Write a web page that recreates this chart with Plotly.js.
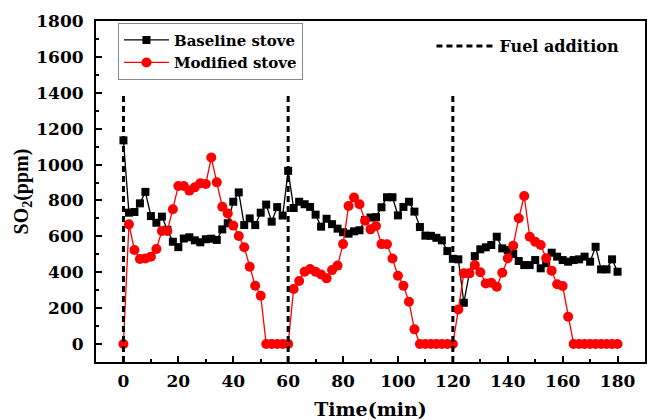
<!DOCTYPE html>
<html>
<head>
<meta charset="utf-8">
<script src="https://cdn.plot.ly/plotly-3.0.1.min.js"></script>
<style>html,body{margin:0;padding:0;background:#fff;}#chart{width:648px;height:420px;}</style>
</head>
<body>
<div id="chart"></div>
<script>
const timeMin = [0,2,4,6,8,10,12,14,16,18,20,22,24,26,28,30,32,34,36,38,40,42,44,46,48,50,52,54,56,58,60,
  62,64,66,68,70,72,74,76,78,80,82,84,86,88,90,92,94,96,98,100,102,104,106,108,110,112,114,116,118,120,
  122,124,126,128,130,132,134,136,138,140,142,144,146,148,150,152,154,156,158,160,162,164,166,168,170,172,174,176,178,180];

const baselineSO2 = [1135,732,736,784,848,713,676,710,637,570,540,588,595,578,567,584,587,580,639,673,793,845,663,700,663,732,777,682,763,716,965,
  758,793,779,764,721,654,698,668,643,623,615,628,634,691,705,707,762,818,818,717,764,793,738,652,604,603,592,578,518,475,
  472,230,395,490,528,539,552,598,533,524,502,463,440,440,468,422,450,509,487,468,459,468,472,487,459,542,416,416,472,403];

const modifiedSO2 = [0,667,524,474,477,487,530,630,630,751,881,881,855,873,896,892,1039,901,765,728,660,602,539,431,325,269,0,0,0,0,0,
  307,351,403,418,403,388,366,412,437,557,769,816,779,687,639,658,557,556,477,381,325,236,82,0,0,0,0,0,0,0,
  193,394,394,440,400,338,342,319,397,478,548,701,825,598,570,552,478,409,333,323,152,0,0,0,0,0,0,0,0,0];

const fuelTimes = [0, 60, 120];
const fuelLineBottom = -100;
const fuelLineTop = 1400;

const seriesNames = ['Baseline stove', 'Modified stove', 'Fuel addition'];

const fuelX = [], fuelY = [];
fuelTimes.forEach(t => { fuelX.push(t, t, null); fuelY.push(fuelLineBottom, fuelLineTop, null); });

const WIDE = 'DejaVu Serif, serif';
const TIMES = 'Liberation Serif, Times New Roman, serif';

const traces = [
  {
    x: timeMin, y: baselineSO2, name: seriesNames[0], type: 'scatter', mode: 'lines+markers',
    line: {color: '#000000', width: 1.3},
    marker: {symbol: 'square', size: 8, color: '#000000'},
    legend: 'legend'
  },
  {
    x: timeMin, y: modifiedSO2, name: seriesNames[1], type: 'scatter', mode: 'lines+markers',
    line: {color: '#ff0000', width: 1.3},
    marker: {symbol: 'circle', size: 10, color: '#ff0000'},
    legend: 'legend'
  },
  {
    x: fuelX, y: fuelY, name: seriesNames[2], type: 'scatter', mode: 'lines',
    line: {color: '#000000', width: 3, dash: '6px,4px'},
    hoverinfo: 'skip',
    legend: 'legend2'
  }
];

const axisCommon = {
  showline: true, linewidth: 2, linecolor: '#000', mirror: true,
  showgrid: false, zeroline: false,
  ticks: 'inside', ticklen: 6, tickwidth: 2, tickcolor: '#000',
  tickfont: {family: WIDE, size: 17, color: '#000', weight: 'bold'}
};

const layout = {
  width: 648, height: 420,
  margin: {l: 96, r: 3, t: 21, b: 58},
  paper_bgcolor: '#fff', plot_bgcolor: '#fff',
  showlegend: true,
  xaxis: Object.assign({}, axisCommon, {
    range: [-10, 190], tick0: 0, dtick: 20,
    ticklabelstandoff: 3,
    minor: {dtick: 10, ticks: 'inside', ticklen: 3, tickwidth: 2, tickcolor: '#000', showgrid: false},
    title: {text: 'Time(min)', font: {family: WIDE, size: 19, color: '#000', weight: 'bold'}, standoff: 12}
  }),
  yaxis: Object.assign({}, axisCommon, {
    range: [-100, 1800], tick0: 0, dtick: 200,
    ticklabelstandoff: 7,
    minor: {dtick: 100, ticks: 'inside', ticklen: 3, tickwidth: 2, tickcolor: '#000', showgrid: false},
    title: {text: 'SO<sub>2</sub>(ppm)', font: {family: TIMES, size: 20, color: '#000', weight: 'bold'}, standoff: 2}
  }),
  legend: {
    x: 0.04, y: 0.995, xanchor: 'left', yanchor: 'top',
    bgcolor: '#fff', bordercolor: '#888', borderwidth: 1,
    font: {family: WIDE, size: 15, color: '#000', weight: 'bold'},
    itemwidth: 45, tracegroupgap: 0
  },
  legend2: {
    x: 0.611, y: 0.976, xanchor: 'left', yanchor: 'top',
    bgcolor: 'rgba(0,0,0,0)', borderwidth: 0,
    font: {family: WIDE, size: 16, color: '#000', weight: 'bold'},
    itemwidth: 58
  }
};

Plotly.newPlot('chart', traces, layout, {displayModeBar: false, staticPlot: true});
</script>
</body>
</html>
